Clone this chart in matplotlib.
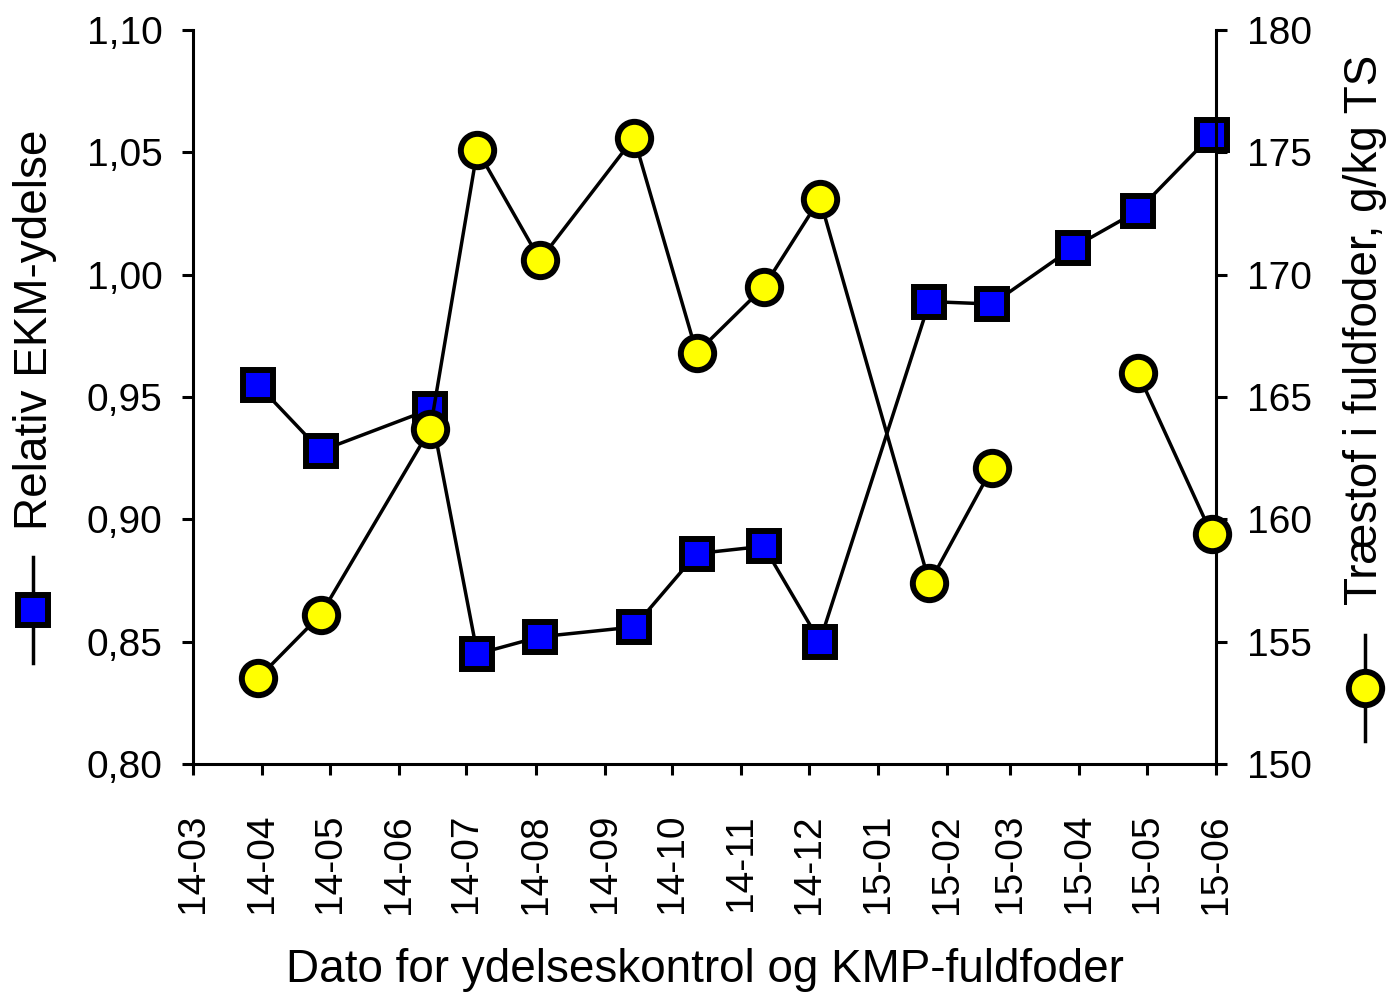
import matplotlib.pyplot as plt
import matplotlib.dates as mdates
from matplotlib.lines import Line2D
from matplotlib.ticker import FuncFormatter
import numpy as np
import pandas as pd

plt.rcParams['font.family'] = ['Liberation Sans', 'DejaVu Sans']

# Kontroldatoer
datoer = pd.to_datetime([
    "2014-03-30", "2014-04-27", "2014-06-15", "2014-07-06", "2014-08-03",
    "2014-09-14", "2014-10-12", "2014-11-11", "2014-12-06", "2015-01-24",
    "2015-02-21", "2015-03-29", "2015-04-27", "2015-05-30",
])

# Relativ EKM-ydelse (venstre akse)
ekm = [0.955, 0.928, 0.945, 0.845, 0.852, 0.856, 0.886, 0.889, 0.850,
       0.989, 0.988, 1.011, 1.026, 1.057]

# Traestof i fuldfoder, g/kg TS (hoejre akse), mangler i 15-03
traestof = [153.5, 156.1, 163.7, 175.1, 170.6, 175.6, 166.8, 169.5, 173.1,
            157.4, 162.1, np.nan, 166.0, 159.4]

fig = plt.figure(figsize=(13.94, 9.94), dpi=100)
ax = fig.add_axes([0.1385, 0.2314, 0.7338, 0.7384])
ax2 = ax.twinx()

lw = 2.5
ax.plot(datoer, ekm, color='black', lw=lw, marker='s', ms=21,
        mfc='#0000ff', mec='black', mew=4.3, clip_on=False)
ax2.plot(datoer, traestof, color='black', lw=lw, marker='o', ms=24,
         mfc='#ffff00', mec='black', mew=4.3, clip_on=False, zorder=3)

ax.set_xlim(pd.Timestamp("2014-03-01"), pd.Timestamp("2015-06-01"))
ax.set_ylim(0.80, 1.10)
ax2.set_ylim(150, 180)
ax.set_yticks(np.arange(0.80, 1.101, 0.05))
ax2.set_yticks(np.arange(150, 181, 5))
ax.yaxis.set_major_formatter(FuncFormatter(lambda v, p: f"{v:.2f}".replace('.', ',')))

ax.xaxis.set_major_locator(mdates.MonthLocator())
ax.xaxis.set_major_formatter(mdates.DateFormatter('%y-%m'))

for a in (ax, ax2):
    for s in a.spines.values():
        s.set_linewidth(2.2)
    a.spines['top'].set_visible(False)
ax.spines['right'].set_visible(False)
ax2.spines['left'].set_visible(False)
ax2.spines['bottom'].set_visible(False)

ax.tick_params(axis='y', labelsize=28, length=8, width=2.2, pad=14)
ax.tick_params(axis='x', labelsize=28, length=8, width=2.2, pad=28, labelrotation=90)
ax2.tick_params(axis='y', labelsize=28, length=8, width=2.2, pad=14)

# Akseetiketter med symboler
fig.text(0.025, 0.668, "Relativ EKM-ydelse", rotation=90, fontsize=33,
         ha='center', va='center')
fig.text(0.979, 0.668, "Træstof i fuldfoder, g/kg TS", rotation=90, fontsize=33,
         ha='center', va='center')
fig.text(0.506, 0.024, "Dato for ydelseskontrol og KMP-fuldfoder", fontsize=33,
         ha='center', va='center')

def akse_symbol(x, yc, marker, fc, ms):
    x = x / 1394
    y0, y1, ym = 1 - (yc - 53) / 994, 1 - (yc + 53) / 994, 1 - yc / 994
    fig.add_artist(Line2D([x, x], [y0, y1], transform=fig.transFigure,
                          color='black', lw=lw))
    fig.add_artist(Line2D([x], [ym], transform=fig.transFigure, marker=marker,
                          ms=ms, mfc=fc, mec='black', mew=4.3, ls='none'))

akse_symbol(33, 610, 's', '#0000ff', 21)
akse_symbol(1365, 688, 'o', '#ffff00', 24)

fig.savefig('out.png', dpi=100)
